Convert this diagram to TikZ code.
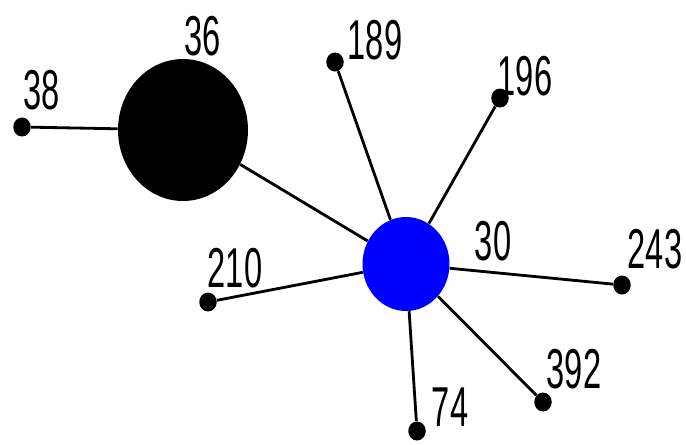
\documentclass[tikz,border=0pt]{standalone}
\usepackage{fontspec}
\newfontfamily\numfont[FakeStretch=0.58]{Liberation Sans}
\usetikzlibrary{shapes.geometric}

\begin{document}
\begin{tikzpicture}[x=0.02cm,y=-0.02cm,
    hub/.style={ellipse,inner sep=0pt},
    leaf/.style={ellipse,fill=black,inner sep=0pt,minimum width=0.35cm,minimum height=0.38cm},
    num/.style={inner sep=0pt,font=\numfont\fontsize{32}{32}\selectfont},
    link/.style={line width=1.6pt}]
\useasboundingbox (0,0) rectangle (686,444);

% the two big nodes
\node[hub,fill=black,minimum width=2.6cm,minimum height=2.84cm] (n36) at (183,130) {};
\node[hub,fill=blue,minimum width=1.74cm,minimum height=1.88cm] (n30) at (406,264) {};

% the small ones
\node[leaf] (n38) at (22,127) {};
\node[leaf] (n189) at (335,62) {};
\node[leaf] (n196) at (500,98) {};
\node[leaf] (n243) at (622,285) {};
\node[leaf] (n392) at (543,402) {};
\node[leaf] (n74) at (417,431) {};
\node[leaf] (n210) at (208,302) {};

\draw[link] (n38) -- (n36);
\draw[link] (n36) -- (n30);
\foreach \t in {n189,n196,n243,n392,n74,n210}
  \draw[link] (n30) -- (\t);

% labels
\node[num] (l36) at (203,36) {36};
\node[num] (l38) at (42,90) {38};
\node[num] (l189) at (375,40) {189};
\node[num] (l196) at (525,76) {196};
\node[num] (l30) at (493,241) {30};
\node[num] (l243) at (655,249) {243};
\node[num] (l392) at (574,369) {392};
\node[num] (l74) at (450,407) {74};
\node[num] (l210) at (235,268) {210};
\end{tikzpicture}
\end{document}
